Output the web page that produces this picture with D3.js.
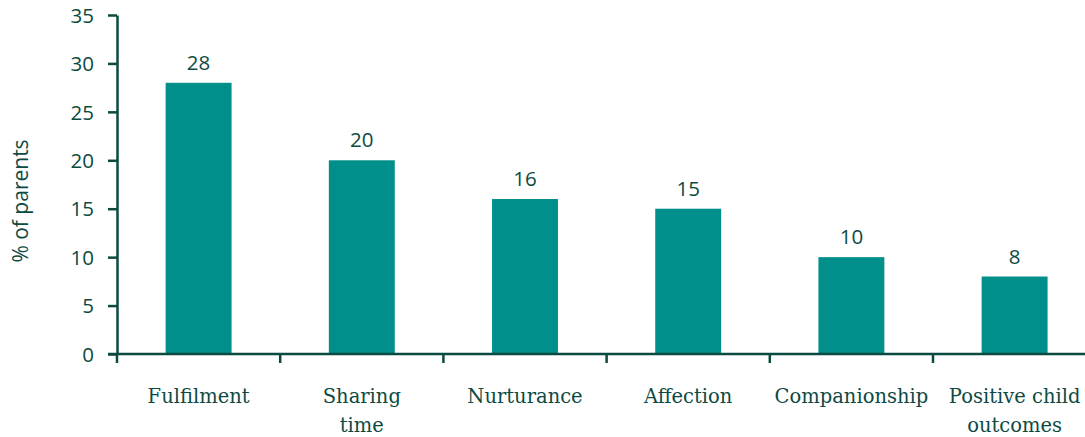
<!DOCTYPE html>
<meta charset="utf-8">
<html>
<head>
<script src="https://d3js.org/d3.v7.min.js"></script>
<style>
  body { margin: 0; background: #fff; }
  .tick text, .val { font-family: "Open Sans", "DejaVu Sans", sans-serif; fill: #0d4a42; }
  .cat { font-family: "DejaVu Serif", serif; fill: #0d4a42; }
</style>
</head>
<body>
<svg width="1085" height="437"></svg>
<script>

var categories = ["Fulfilment", "Sharing\ntime", "Nurturance", "Affection", "Companionship", "Positive child\noutcomes"];
var values = [28, 20, 16, 15, 10, 8];
var yTicks = [0, 5, 10, 15, 20, 25, 30, 35];

var svg = d3.select("svg"),
    ink = "#0b4a40",
    teal = "#008f8a";

var x0 = 117, y0 = 354;
var x = d3.scaleBand()
    .domain(categories)
    .range([x0, x0 + 6 * 163.2])
    .paddingInner(0.596)
    .paddingOuter(0.298);

var y = d3.scaleLinear().domain([0, 35]).range([y0, 15]);

// bars
svg.selectAll("rect.bar")
    .data(values)
  .enter().append("rect")
    .attr("class", "bar")
    .attr("x", function(d, i) { return x(categories[i]); })
    .attr("width", x.bandwidth())
    .attr("y", function(d) { return y(d); })
    .attr("height", function(d) { return y0 - y(d); })
    .attr("fill", teal);

// value labels
svg.selectAll("text.val")
    .data(values)
  .enter().append("text")
    .attr("class", "val")
    .attr("x", function(d, i) { return x(categories[i]) + x.bandwidth() / 2; })
    .attr("y", function(d) { return y(d) - 13; })
    .attr("text-anchor", "middle")
    .style("font-size", "20.5px")
    .text(function(d) { return d; });

// y axis
var yAxis = svg.append("g")
    .attr("transform", "translate(" + x0 + ",0)")
    .call(d3.axisLeft(y).tickValues(yTicks).tickSize(9).tickPadding(14).tickSizeOuter(0));
yAxis.select(".domain").attr("stroke", ink).attr("stroke-width", 2.5);
yAxis.selectAll(".tick line").attr("stroke", ink).attr("stroke-width", 2.5);
yAxis.selectAll(".tick text").style("font-size", "20.5px").attr("dy", "0.35em");

// x axis: line plus boundary ticks
svg.append("line")
    .attr("x1", x0 - 9).attr("x2", 1085)
    .attr("y1", y0).attr("y2", y0)
    .attr("stroke", ink).attr("stroke-width", 2.5);

var bounds = d3.range(0, 6).map(function(i) { return x0 + i * x.step(); });
svg.selectAll("line.xt")
    .data(bounds)
  .enter().append("line")
    .attr("class", "xt")
    .attr("x1", function(d) { return d; }).attr("x2", function(d) { return d; })
    .attr("y1", y0).attr("y2", y0 + 9)
    .attr("stroke", ink).attr("stroke-width", 2.5);

// category labels
svg.selectAll("text.cat")
    .data(categories)
  .enter().append("text")
    .attr("class", "cat")
    .attr("text-anchor", "middle")
    .style("font-size", "19.5px")
    .attr("transform", function(d) { return "translate(" + (x(d) + x.bandwidth() / 2) + ",403)"; })
    .each(function(d) {
      var t = d3.select(this);
      d.split("\n").forEach(function(line, j) {
        t.append("tspan").attr("x", 0).attr("dy", j ? 29 : 0).text(line);
      });
    });

// y label
svg.append("text")
    .attr("class", "val")
    .attr("transform", "translate(28,201) rotate(-90)")
    .attr("text-anchor", "middle")
    .style("font-size", "21px")
    .text("% of parents");

</script>
</body>
</html>
